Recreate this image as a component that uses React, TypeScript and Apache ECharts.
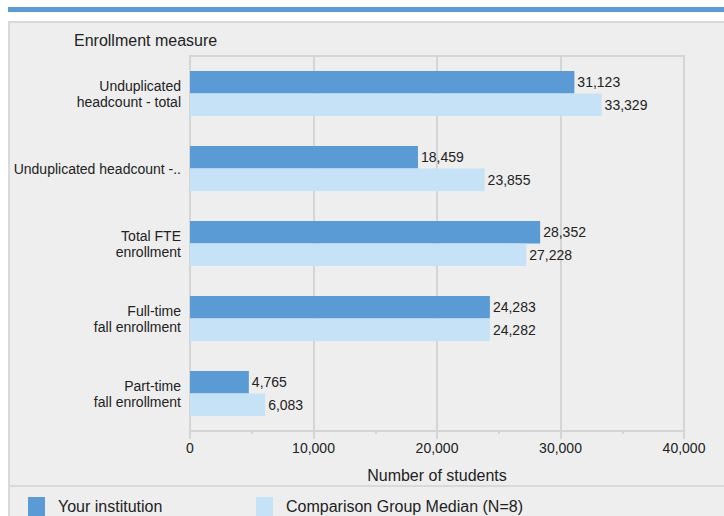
import React, { useEffect, useRef } from "react";
import * as echarts from "echarts";

const categories = [
  "Unduplicated\nheadcount - total",
  "Unduplicated headcount -..",
  "Total FTE\nenrollment",
  "Full-time\nfall enrollment",
  "Part-time\nfall enrollment",
];
const yourInstitution = [31123, 18459, 28352, 24283, 4765];
const comparisonMedian = [33329, 23855, 27228, 24282, 6083];
const seriesNames = ["Your institution", "Comparison Group Median (N=8)"];
const axisTitle = "Number of students";
const categoryTitle = "Enrollment measure";

const FONT = 'Arial, "Liberation Sans", sans-serif';
const DARK = "#5b9bd5";
const LIGHT = "#c5e2f6";
const GRIDC = "#d5d5d5";
const TEXT = "#222222";

const fmt = (v: number) => Number(v).toLocaleString("en-US");

export default function App() {
  const ref = useRef<HTMLDivElement>(null);
  useEffect(() => {
    if (!ref.current) return;
    const chart = echarts.init(ref.current, undefined, { renderer: "svg" });
    chart.setOption({
      animation: false,
      textStyle: { fontFamily: FONT },
      graphic: [
        { type: "rect", z: -10, shape: { x: 8, y: 7, width: 716, height: 5 }, style: { fill: DARK } },
        {
          type: "rect",
          z: -10,
          shape: { x: 9, y: 22, width: 730, height: 520 },
          style: { fill: "#eeeeee", stroke: "#d9d9d9", lineWidth: 2 },
        },
        {
          type: "line",
          z: -9,
          shape: { x1: 8, y1: 486, x2: 724, y2: 486 },
          style: { stroke: "#d9d9d9", lineWidth: 2 },
        },
      ],
      title: {
        text: categoryTitle,
        left: 74,
        top: 32,
        padding: 0,
        textStyle: { fontFamily: FONT, fontSize: 16, fontWeight: "normal", color: TEXT },
      },
      legend: [
        {
          data: [seriesNames[0]],
          left: 28,
          top: 497,
          padding: 0,
          icon: "rect",
          itemWidth: 17,
          itemHeight: 19,
          selectedMode: false,
          textStyle: { fontFamily: FONT, fontSize: 16, color: TEXT, padding: [0, 0, 0, 8] },
        },
        {
          data: [seriesNames[1]],
          left: 256,
          top: 497,
          padding: 0,
          icon: "rect",
          itemWidth: 17,
          itemHeight: 19,
          selectedMode: false,
          textStyle: { fontFamily: FONT, fontSize: 16, color: TEXT, padding: [0, 0, 0, 8] },
        },
      ],
      grid: {
        left: 190,
        right: 40,
        top: 56,
        bottom: 85,
        show: true,
        borderColor: GRIDC,
        borderWidth: 2,
        backgroundColor: "transparent",
      },
      xAxis: {
        type: "value",
        min: 0,
        max: 40000,
        interval: 10000,
        name: axisTitle,
        nameLocation: "middle",
        nameGap: 36,
        nameTextStyle: { fontFamily: FONT, fontSize: 16, color: TEXT },
        axisLine: { show: true, lineStyle: { color: GRIDC, width: 2 } },
        axisTick: { show: true, length: 8, lineStyle: { color: GRIDC, width: 2 } },
        minorTick: { show: true, splitNumber: 2, length: 3, lineStyle: { color: GRIDC, width: 2 } },
        axisLabel: {
          margin: 10,
          fontFamily: FONT,
          fontSize: 14,
          color: TEXT,
          formatter: (v: number) => fmt(v),
        },
        splitLine: { show: true, lineStyle: { color: GRIDC, width: 2 } },
      },
      yAxis: {
        type: "category",
        data: categories,
        inverse: true,
        axisLine: { show: false },
        axisTick: { show: false },
        splitLine: { show: false },
        axisLabel: {
          margin: 9,
          fontFamily: FONT,
          fontSize: 14,
          lineHeight: 16,
          color: TEXT,
          align: "right",
        },
      },
      series: [
        {
          name: seriesNames[0],
          type: "bar",
          data: yourInstitution,
          barGap: "0%",
          barCategoryGap: "40%",
          itemStyle: { color: DARK },
          label: {
            show: true,
            position: "right",
            distance: 3,
            fontFamily: FONT,
            fontSize: 14,
            color: TEXT,
            formatter: (p: any) => fmt(p.value),
          },
        },
        {
          name: seriesNames[1],
          type: "bar",
          data: comparisonMedian,
          barGap: "0%",
          barCategoryGap: "40%",
          itemStyle: { color: LIGHT },
          label: {
            show: true,
            position: "right",
            distance: 3,
            fontFamily: FONT,
            fontSize: 14,
            color: TEXT,
            formatter: (p: any) => fmt(p.value),
          },
        },
      ],
    });
    return () => chart.dispose();
  }, []);
  return (
    <div
      ref={ref}
      style={{ position: "fixed", left: 0, top: 0, width: 724, height: 516, background: "#ffffff" }}
    />
  );
}
